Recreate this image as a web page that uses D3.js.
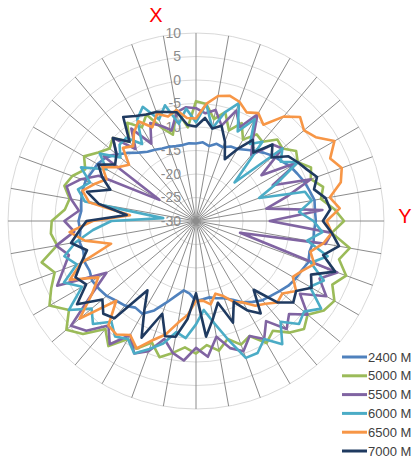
<!DOCTYPE html>
<html><head><meta charset="utf-8">
<script src="https://cdn.jsdelivr.net/npm/d3@7"></script>
<style>html,body{margin:0;padding:0;background:#fff;overflow:hidden}</style>
</head><body>
<svg id="chart" width="413" height="462"></svg>
<script>
const seriesNames = ["2400 M","5000 M","5500 M","6000 M","6500 M","7000 M"];
const seriesColors = ["#4f81bd","#9bbb59","#8064a2","#4bacc6","#f79646","#1f3a60"];
const radialTicks = [10,5,0,-5,-10,-15,-20,-25,-30];
const angles = d3.range(0,360,5);

const s2400 = [-13.5,-13.2,-13.8,-13,-13.3,-12.5,-12.3,-11.5,-10.5,-9.5,-8.5,-7.8,-6.8,-6.2,-5.5,-5,-4.4,-4.6,-4.5,-4.8,-4.6,-5,-4.5,-5.2,-5.5,-6,-6.8,-7.5,-8,-9,-10,-11.5,-12.5,-13,-13.5,-13.3,-13,-14.5,-15,-13.5,-11.5,-9,-7.2,-7.5,-6.5,-6,-5.2,-4.8,-4.5,-5,-4.7,-5.2,-4.8,-5.3,-5,-5.5,-5.2,-5,-5,-5.5,-5.8,-6.5,-8,-9.5,-11,-12,-12.5,-13,-13.2,-13.5,-13.6,-13.4];
const s5000 = [-4.5,-5,-8,-6,-9.5,-7,-10,-7.5,-8,-5.5,-6,-4,-5,-3,-4,-2,-3,-0.5,1.5,-1,3.2,1.5,4,2,4,3.2,1,2.5,1,-1.5,0,-3,-2,-4,-2,-3.5,-1.8,-3,-1.5,0,-2.5,0,-1,2.5,0,4,6,3,6,4,2,4,0,1,0.7,-2,-2.7,-1,-2,-4,-2.5,-4.6,-6,-5,-8,-4.5,-7,-5,-9,-11,-6,-10];
const s5500 = [-6,-7,-6,-9,-5,-8,-3.8,-9,-11.7,-7,-6,-13,-5,-12,-4,-10,-14.8,-3,-14.3,-1,-2,-20.3,2,-1,2,-3,1,-2,0,-4,-1,-3,-0.5,-2,-5,-1,-3,-0.2,-1.5,-4,-0.5,1.1,-2,2,-1,3,4.7,-3,-8,2.6,0,-2,0.2,-4,-2,-5,-3,-1.5,-4,-7.2,-21,-6,-8,-5,-10,-6,-11,-7,-8.5,-10,-6.5,-5.7];
const s6000 = [-9,-5,-10,-6,-3.3,-9,-5,-10,-8,-18.4,-6,-8,-5,-11,-15.7,-6,-5,-8,-5,-3,-6,-1,-4,0,-2,2.5,0,1,-2,2,-1,1,1,-4,-8,-11,-8,-5,-6,-3,-1,1.1,-1,0,-2,1,-1,3,-2,1,-3,-1,-4,-8,-12,-23,-6,-4,-6,-3,-8,-5,-9,-7,-6.9,-10,-5,-3.2,-7,-4.5,-9,-6];
const s6500 = [-8.2,-5,-3,-2.4,-3,-4.5,-3.5,-5,-1,1.3,0,1.1,4,1.5,3,1.9,-1.1,0.7,-2.2,-1,-2.5,-4.8,-3.2,-5,-6.2,-4,-6,-5.5,-7,-8,-10,-11,-13,-14,-12,-13,-13,-10,-8,-5,-3,-0.1,-2,-0.5,-1,-6,2.3,-3,-6,-0.4,-4,-11.3,-6,-3,-8,-15.9,-6.9,-5,-7,-9,-7,-10,-11.4,-8,-9.2,-7,-5.5,-8,-5.7,-7,-6,-8];
const s7000 = [-9.9,-8,-10,-9,-12,-15.5,-12.3,-8.9,-11,-7,-9,-6,-5,-4,-2.6,-4,-2,-1.3,-3,-1,0.9,-2,1.5,-3,-1.6,-4,-3,-5.5,-10.9,-6,-8,-11,-7,-12,-9,-5.3,-14.6,-9,-5,-4.6,-9,-2.6,-8,-12,-3,-2.1,-4,0.9,-3,-1.7,-4,-6,-3,-5,-6.7,-15.2,-9,-6,-10.6,-8,-6,-9,-7.9,-5,-8,-3,-4.2,-5,-5.3,-6,-6.5,-9.5];
const seriesValues = [s2400,s5000,s5500,s6000,s6500,s7000];

const svg = d3.select("#chart");
const cx = 196, cy = 221, R = 188;
const r = d3.scaleLinear().domain([-30,10]).range([0,R]);
const ang = d3.scaleLinear().domain([0,360]).range([0,2*Math.PI]);
const g = svg.append("g").attr("transform",`translate(${cx},${cy})`);

g.selectAll("circle.ring").data(radialTicks.filter(t=>t>-30)).join("circle")
  .attr("r",d=>r(d)).attr("fill","none").attr("stroke","#d9d9d9").attr("stroke-width",1);
g.selectAll("line.spoke").data(d3.range(0,360,10)).join("line")
  .attr("x1",0).attr("y1",0)
  .attr("x2",d=>R*Math.sin(ang(d))).attr("y2",d=>-R*Math.cos(ang(d)))
  .attr("stroke","#8c8c8c").attr("stroke-width",1);
g.selectAll("text.tick").data(radialTicks).join("text")
  .attr("x",-15).attr("y",d=>-r(d)).attr("dy","0.35em")
  .attr("text-anchor","end").attr("font-family","Liberation Sans, Arial, sans-serif")
  .attr("font-size",14).attr("fill","#8c8c8c").text(d=>d);

const line = d3.lineRadial().angle((d,i)=>ang(angles[i])).radius(d=>r(d)).curve(d3.curveLinearClosed);
seriesValues.forEach((vals,k)=>{
  g.append("path").datum(vals).attr("d",line).attr("fill","none")
   .attr("stroke",seriesColors[k]).attr("stroke-width",2.6).attr("stroke-linejoin","round");
});

svg.append("text").attr("x",156).attr("y",22).attr("text-anchor","middle")
  .attr("font-family","Liberation Sans, Arial, sans-serif").attr("font-size",20).attr("fill","#ff0000").text("X");
svg.append("text").attr("x",405).attr("y",223).attr("text-anchor","middle")
  .attr("font-family","Liberation Sans, Arial, sans-serif").attr("font-size",20).attr("fill","#ff0000").text("Y");

const leg = svg.append("g");
seriesNames.forEach((n,i)=>{
  const y = 357 + i*18.8;
  leg.append("line").attr("x1",342).attr("x2",367).attr("y1",y).attr("y2",y)
    .attr("stroke",seriesColors[i]).attr("stroke-width",3);
  leg.append("text").attr("x",368).attr("y",y).attr("dy","0.35em")
    .attr("font-family","Liberation Sans, Arial, sans-serif").attr("font-size",13).attr("fill","#404040").text(n);
});
</script>
</body></html>
